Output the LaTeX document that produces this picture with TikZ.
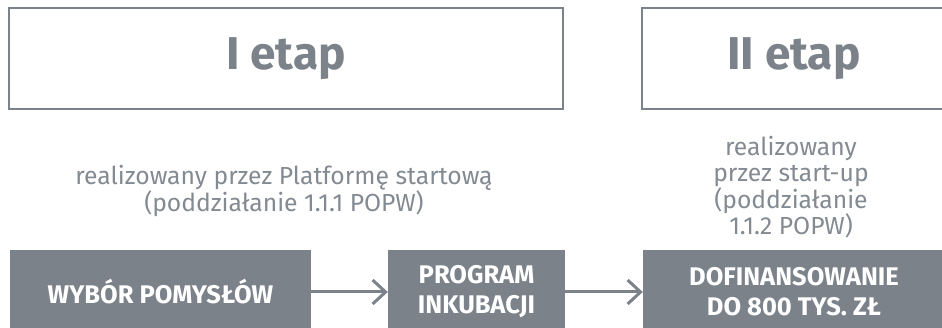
\documentclass[tikz,border=0pt]{standalone}
\usepackage{fontspec}
\setmainfont{Fira Sans}
\usetikzlibrary{arrows.meta,positioning}
\definecolor{szary}{HTML}{7B828A}
\definecolor{jasnyszary}{HTML}{838A91}

\begin{document}
\begin{tikzpicture}[x=1pt,y=-1pt,
  etapbox/.style={draw=szary,line width=2.5pt,inner sep=0pt,
    font=\fontsize{46}{50}\selectfont\bfseries,text=szary},
  opis/.style={align=center,text=jasnyszary,inner sep=0pt,
    font=\fontsize{24.7}{26.5}\selectfont},
  krok/.style={fill=szary,text=white,align=center,inner sep=0pt,
    font=\fontsize{25.5}{30}\selectfont\bfseries},
  strzalka/.style={draw=szary,line width=3pt,
    -{Straight Barb[length=13pt,width=24pt]}}]
\useasboundingbox (0,0) rectangle (942,328);

%etapy
\node[etapbox,minimum width=554pt,minimum height=101pt] (etapI) at (286,58.5) {I etap};
\node[etapbox,minimum width=304pt,minimum height=101pt] (etapII) at (794,58.5) {II etap};

%opisy
\node[opis] (opisI) at (284,191) {realizowany przez Platformę startową\\(poddziałanie 1.1.1 POPW)};
\node[opis] (opisII) at (791,187) {realizowany\\przez start-up\\(poddziałanie\\1.1.2 POPW)};

% bottom part
\node[krok,minimum width=301pt,minimum height=84pt] (wybor) at (160.5,292) {WYBÓR POMYSŁÓW};
\node[krok,minimum width=177pt,minimum height=84pt] (program) at (476.5,292) {PROGRAM\\INKUBACJI};
\node[krok,minimum width=302pt,minimum height=84pt] (dofin) at (794,292) {DOFINANSOWANIE\\DO 800 TYS. ZŁ};

\draw[strzalka] (wybor) -- (program);
\draw[strzalka] (program) -- (dofin);
\end{tikzpicture}
\end{document}
